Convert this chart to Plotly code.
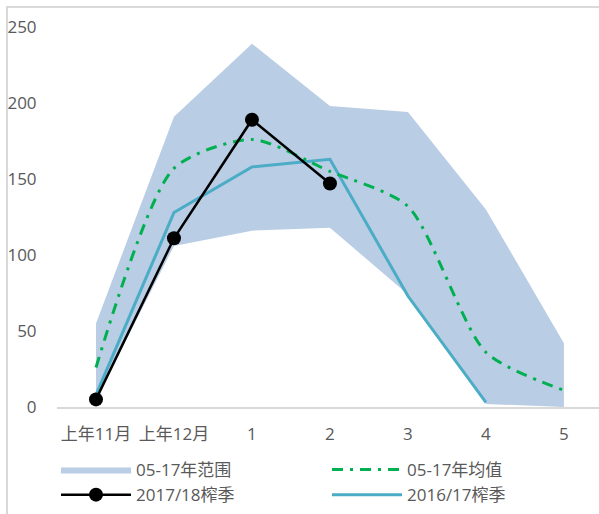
import plotly.graph_objects as go

# Categories (crushing-season months) and series values
categories = ["上年11月", "上年12月", "1", "2", "3", "4", "5"]
range_min = [5, 106, 116, 118, 74, 2, 0]
range_max = [55, 191, 239, 198, 194, 130, 42]
mean_05_17 = [26, 157, 176, 155, 132, 36, 11]
season_2017_18 = [5, 111, 189, 147, None, None, None]
season_2016_17 = [8, 128, 158, 163, 73, 3, None]
y_ticks = [0, 50, 100, 150, 200, 250]

GRAY_TEXT = "#595959"
FONT = "Open Sans, Noto Sans CJK SC, sans-serif"
FS = 17

fig = go.Figure()

# 05-17 range band: lower bound (hidden) then filled upper bound
fig.add_trace(go.Scatter(
    x=categories, y=range_min, mode="lines", line=dict(width=0, color="#B9CDE5"),
    showlegend=False, hoverinfo="skip",
))
fig.add_trace(go.Scatter(
    x=categories, y=range_max, mode="lines", fill="tonexty",
    fillcolor="#B9CDE5", line=dict(width=0, color="#B9CDE5"),
    name="05-17年范围", legendrank=1,
))

fig.add_trace(go.Scatter(
    x=categories, y=season_2016_17, mode="lines",
    line=dict(color="#4BACC6", width=3),
    name="2016/17榨季", legendrank=4,
))

fig.add_trace(go.Scatter(
    x=categories, y=mean_05_17, mode="lines",
    line=dict(color="#00B050", width=3, dash="11px,7px,3px,7px", shape="spline", smoothing=0.7),
    name="05-17年均值", legendrank=2,
))

fig.add_trace(go.Scatter(
    x=categories, y=season_2017_18, mode="lines+markers",
    line=dict(color="#000000", width=2.5),
    marker=dict(color="#000000", size=14),
    name="2017/18榨季", legendrank=3, cliponaxis=False,
))

plot_left, plot_right, plot_top, plot_bottom = 57, 599, 27, 407
pw = plot_right - plot_left
ph = plot_bottom - plot_top

fig.update_layout(
    width=599, height=514,
    margin=dict(l=plot_left, r=599 - plot_right, t=plot_top, b=514 - plot_bottom,
                autoexpand=False),
    paper_bgcolor="white", plot_bgcolor="white",
    font=dict(family=FONT, size=FS, color=GRAY_TEXT),
    showlegend=True,
    legend=dict(
        orientation="h", traceorder="normal",
        xref="container", x=56 / 599, xanchor="left",
        yref="container", y=1 - 452 / 514, yanchor="top",
        entrywidth=186, entrywidthmode="pixels", itemwidth=70,
        font=dict(size=FS, color=GRAY_TEXT), tracegroupgap=0,
        bgcolor="rgba(0,0,0,0)",
    ),
    xaxis=dict(
        type="category", range=[-0.5, 6.45], showgrid=False,
        showline=True, linecolor="#D9D9D9", linewidth=1.5,
        ticks="outside", ticklen=11, tickcolor="rgba(0,0,0,0)",
        tickfont=dict(size=FS, color=GRAY_TEXT), fixedrange=True,
    ),
    yaxis=dict(
        range=[0, 250], tickvals=y_ticks, showgrid=False, zeroline=False,
        showline=False, ticks="outside", ticklen=16, tickcolor="rgba(0,0,0,0)",
        tickfont=dict(size=FS, color=GRAY_TEXT), fixedrange=True,
    ),
    shapes=[dict(
        type="rect", xref="paper", yref="paper",
        x0=(7 - plot_left) / pw, x1=(610 - plot_left) / pw,
        y0=-(530 - plot_bottom) / ph, y1=(plot_bottom - 7) / ph,
        line=dict(color="#D9D9D9", width=2), fillcolor="rgba(0,0,0,0)", layer="below",
    )],
)

fig.write_html("out.html")
